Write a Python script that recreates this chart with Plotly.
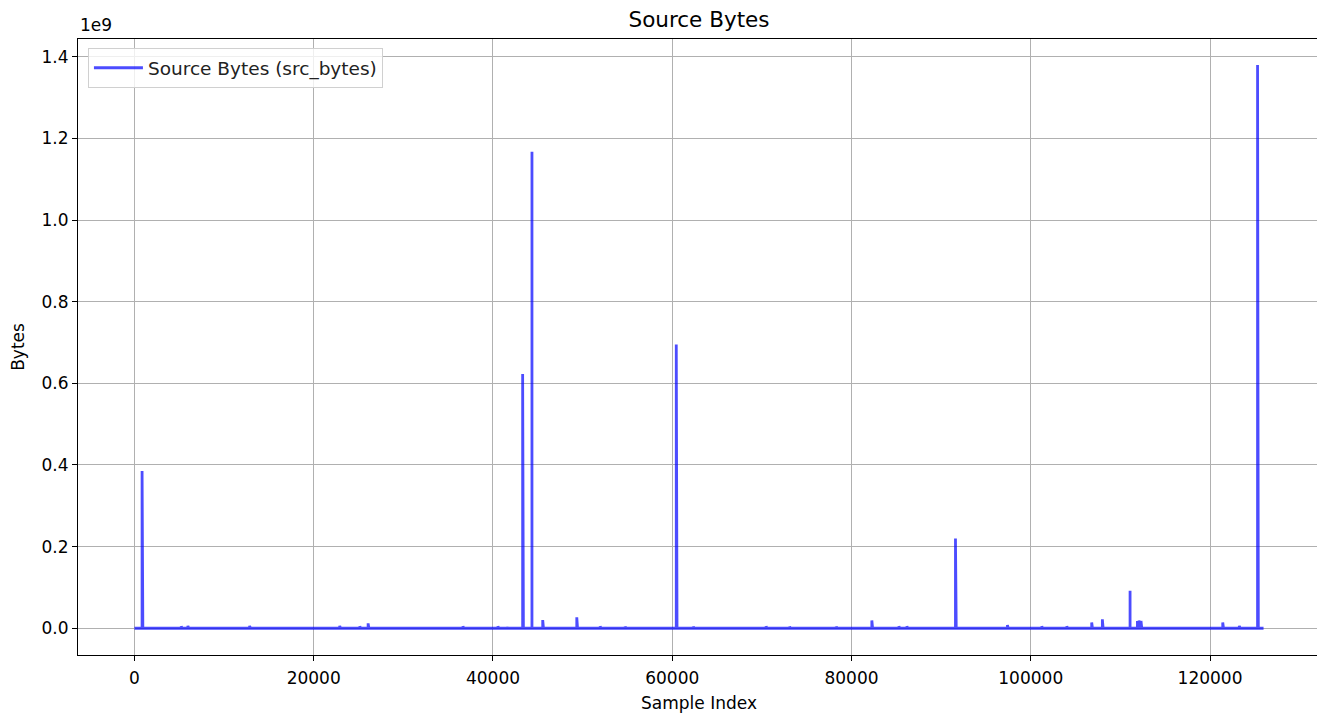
import numpy as np
import plotly.graph_objects as go

# ---- data ----
n_samples = 125973
spike_index = [850, 5220, 5960, 12850, 22900, 25140, 26070, 36650, 40550, 41670,
               43310, 44350, 45550, 49350, 51960, 54750, 60450, 62350, 70470, 73100,
               78300, 82270, 85290, 86180, 91600, 97400, 101230, 104020, 106800, 107990,
               111080, 111900, 112080, 112300, 121420, 123270, 125305]
spike_value = [385e6, 5e6, 6e6, 6e6, 6e6, 5e6, 12e6, 5e6, 5e6, 4e6,
               623e6, 1167e6, 20e6, 27e6, 5e6, 4e6, 695e6, 4e6, 5e6, 4e6,
               4e6, 19e6, 5e6, 5e6, 220e6, 8e6, 5e6, 5e6, 14e6, 22e6,
               92e6, 18e6, 19e6, 18e6, 14e6, 6e6, 1379963888]
x_ticks = [0, 20000, 40000, 60000, 80000, 100000, 120000]
y_ticks = [0, 0.2e9, 0.4e9, 0.6e9, 0.8e9, 1.0e9, 1.2e9, 1.4e9]
y_tick_text = ["0.0", "0.2", "0.4", "0.6", "0.8", "1.0", "1.2", "1.4"]

src_bytes = np.zeros(n_samples)
src_bytes[spike_index] = spike_value
sample_idx = np.arange(n_samples)

FONT = "DejaVu Sans"
TICK_SIZE = 17

fig = go.Figure()
fig.add_trace(go.Scatter(
    x=sample_idx, y=src_bytes, mode="lines",
    name="Source Bytes (src_bytes)",
    line=dict(color="rgba(0,0,255,0.7)", width=2.8),
))

axis_common = dict(
    showline=True, linecolor="black", linewidth=1.2, mirror=True,
    ticks="outside", ticklen=5, tickwidth=1.2, tickcolor="black",
    showgrid=True, gridcolor="#b0b0b0", gridwidth=1.1,
    zeroline=False, automargin=False,
    tickfont=dict(family=FONT, size=TICK_SIZE, color="black"),
)

fig.update_layout(
    width=1317, height=707,
    margin=dict(l=70, r=5, t=31, b=60),
    paper_bgcolor="white", plot_bgcolor="white",
    font=dict(family=FONT, size=TICK_SIZE, color="black"),
    title=dict(text="Source Bytes", x=691 / 1317, xanchor="center",
               y=1 - 11 / 707, yanchor="middle",
               font=dict(family=FONT, size=21.5, color="black")),
    xaxis=dict(range=[-6299, 132271], tickvals=x_ticks,
               tickformat="d", ticklabelstandoff=2,
               title=dict(text="Sample Index", font=dict(family=FONT, size=TICK_SIZE), standoff=10),
               **axis_common),
    yaxis=dict(range=[-0.0655e9, 1.4435e9], tickvals=y_ticks, ticktext=y_tick_text,
               title=dict(text="Bytes", font=dict(family=FONT, size=TICK_SIZE), standoff=12),
               **axis_common),
    showlegend=True,
    legend=dict(x=0.008, y=0.985, xanchor="left", yanchor="top",
                itemwidth=49,
                bgcolor="rgba(255,255,255,0.8)", bordercolor="#d0d0d0", borderwidth=1,
                font=dict(family=FONT, size=18.5, color="#222")),
    annotations=[dict(text="1e9", xref="paper", yref="paper", x=0, y=1,
                      xanchor="left", yanchor="bottom", yshift=2, xshift=0, showarrow=False,
                      font=dict(family=FONT, size=TICK_SIZE, color="black"))],
)

fig.write_html("out.html")
